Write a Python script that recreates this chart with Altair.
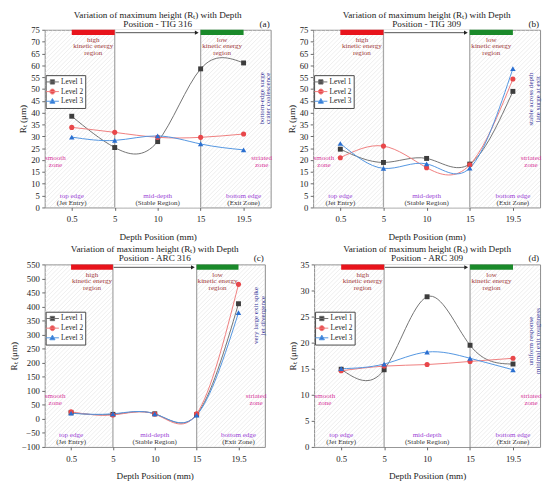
import json
import altair as alt
import pandas as pd

FONT = "Liberation Serif"

DEPTH_LABELS = ["0.5", "5", "10", "15", "19.5"]
LEVELS = ["Level 1", "Level 2", "Level 3"]

TIG316_L1 = [38.5, 25.3, 27.8, 58.5, 61.0]
TIG316_L2 = [33.8, 31.7, 29.6, 29.6, 31.0]
TIG316_L3 = [29.7, 28.3, 30.2, 26.8, 24.3]

TIG309_L1 = [24.6, 19.0, 20.7, 18.3, 49.0]
TIG309_L2 = [21.0, 25.9, 16.8, 18.0, 54.2]
TIG309_L3 = [27.0, 16.5, 18.4, 16.6, 58.6]

ARC316_L1 = [22, 16, 18, 15, 410]
ARC316_L2 = [25, 14, 17, 18, 479]
ARC316_L3 = [20, 18, 18, 13, 378]

ARC309_L1 = [14.9, 14.8, 28.8, 19.5, 15.9]
ARC309_L2 = [14.6, 15.5, 15.8, 16.4, 17.0]
ARC309_L3 = [15.0, 15.9, 18.2, 17.0, 14.8]

TITLE_LINE1 = "Variation of maximum height (Rₜ) with Depth"

LINE_COLORS = ["#707070", "#ee7b7b", "#4f93e0"]
MARKER_COLORS = ["#3d3d3d", "#e8474a", "#2a6fd0"]
SHAPES = ["square", "circle", "triangle-up"]
SIZES = [26, 28, 32]
LEGEND_PATHS = [
    "M-1.5,0H1.5M-0.5,-0.5H0.5V0.5H-0.5Z",
    "M-1.5,0H1.5M0.58,0A0.58,0.58,0,1,1,-0.58,0A0.58,0.58,0,1,1,0.58,0Z",
    "M-1.5,0H1.5M0,-0.62L0.6,0.45L-0.6,0.45Z",
]

XMIN, XMAX = -0.63, 4.63
BOUNDARIES = [DEPTH_LABELS.index("5"), DEPTH_LABELS.index("15")]

C_KIN = "#a23b3b"
C_ZONE = "#d8389c"
C_EDGE = "#9b3fd6"
C_SUB = "#333333"
C_NOTE = "#3b3b9b"
C_RED = "#e8141c"
C_GREEN = "#1a8a2a"

LABEL_EXPR = json.dumps(DEPTH_LABELS) + "[datum.value]"


def panel(tag, name, series, ymin, ymax, ystep, W, H, note_text, note_frac):
    xs = alt.Scale(domain=[XMIN, XMAX], nice=False, zero=False)
    ys = alt.Scale(domain=[ymin, ymax], nice=False, zero=False)
    xaxis = alt.Axis(values=list(range(len(DEPTH_LABELS))), labelExpr=LABEL_EXPR,
                     title="Depth Position (mm)", labelPadding=5, titlePadding=8)
    yaxis = alt.Axis(values=list(range(ymin, ymax + 1, ystep)), title="Rₜ (μm)",
                     labelPadding=2.5, titlePadding=3)

    rows = []
    for lev, vals in zip(LEVELS, series):
        for i, v in enumerate(vals):
            rows.append({"x": i, "v": v, "level": lev})
    df = pd.DataFrame(rows)

    def X(f):
        return alt.X(f, scale=xs, axis=xaxis)

    def Y(f):
        return alt.Y(f, scale=ys, axis=yaxis)

    # hatch pattern
    SP = 4.5
    n = int((W + H) / SP) + 3
    xr = (XMAX - XMIN) / W
    hatch = (
        alt.Chart(alt.sequence(0, n, as_="k"))
        .transform_calculate(
            hx1=f"{XMIN} + (datum.k*{SP} - {H})*{xr}",
            hx2=f"{XMIN} + (datum.k*{SP})*{xr}",
            hy1=f"{ymin}",
            hy2=f"{ymax}",
        )
        .mark_rule(clip=True, color="#e2e2e2", strokeWidth=0.6)
        .encode(x=X("hx1:Q"), x2="hx2:Q", y=Y("hy1:Q"), y2="hy2:Q")
    )

    mid = (
        alt.Chart(pd.DataFrame({"a": [BOUNDARIES[0]], "b": [BOUNDARIES[1]]}))
        .mark_rect(color="white")
        .encode(x=X("a:Q"), x2="b:Q")
    )
    bounds = (
        alt.Chart(pd.DataFrame({"a": BOUNDARIES}))
        .mark_rule(color="#a8a8a8", strokeWidth=1.3)
        .encode(x=X("a:Q"))
    )
    red_bar = (
        alt.Chart(pd.DataFrame({"a": [0], "b": [BOUNDARIES[0]]}))
        .mark_rect(color=C_RED)
        .encode(x=X("a:Q"), x2="b:Q", y=alt.value(0), y2=alt.value(5.5))
    )
    green_bar = (
        alt.Chart(pd.DataFrame({"a": [BOUNDARIES[1]], "b": [len(DEPTH_LABELS) - 1]}))
        .mark_rect(color=C_GREEN)
        .encode(x=X("a:Q"), x2="b:Q", y=alt.value(0), y2=alt.value(5.5))
    )
    arrow = (
        alt.Chart(pd.DataFrame({"a": [BOUNDARIES[0] + 0.02], "b": [2.9]}))
        .mark_rule(color="#222", strokeWidth=0.8)
        .encode(x=X("a:Q"), x2="b:Q", y=alt.value(3))
    )
    head = (
        alt.Chart(pd.DataFrame({"a": [2.91]}))
        .mark_point(shape="triangle-right", filled=True, size=20, color="#222", opacity=1)
        .encode(x=X("a:Q"), y=alt.value(3))
    )

    def txt(x, y, text, color, size=7.3, angle=0, baseline="middle", lh=7.3):
        return (
            alt.Chart(pd.DataFrame({"x": [x], "t": [text]}))
            .mark_text(
                color=color, fontSize=size, font=FONT, lineBreak="\n", lineHeight=lh,
                angle=angle, align="center", baseline=baseline,
            )
            .encode(x=X("x:Q"), y=alt.value(y), text="t:N")
        )

    zone_y = H * 0.72
    notes = [
        txt(0.5, 6.5, "high\nkinetic energy\nregion", C_KIN, baseline="top", lh=6.8),
        txt(3.5, 6.5, "low\nkinetic energy\nregion", C_KIN, baseline="top", lh=6.8),
        txt(-0.38, zone_y, "smooth\nzone", C_ZONE),
        txt(4.42, zone_y, "striated\nzone", C_ZONE),
        txt(0, H - 12, "top edge", C_EDGE),
        txt(0, H - 5, "(Jet Entry)", C_SUB),
        txt(2, H - 12, "mid-depth", C_EDGE),
        txt(2, H - 5, "(Stable Region)", C_SUB),
        txt(4, H - 12, "bottom edge", C_EDGE),
        txt(4, H - 5, "(Exit Zone)", C_SUB),
        txt(4.42, H * note_frac, note_text, C_NOTE, angle=270, lh=7),
    ]

    def head_text(t, x, y, align):
        return (
            alt.Chart(pd.DataFrame({"t": [t]}))
            .mark_text(font=FONT, fontSize=9.5, align=align, baseline="middle", color="#222")
            .encode(x=alt.value(x), y=alt.value(y), text="t:N")
        )

    titles = [
        head_text(TITLE_LINE1, W / 2, -15.6, "center"),
        head_text(f"Position - {name}", W / 2, -6.3, "center"),
        head_text(f"({tag})", W - 1, -6.3, "right"),
    ]

    lines = (
        alt.Chart(df)
        .mark_line(interpolate="natural", strokeWidth=1, clip=True)
        .encode(
            x=X("x:Q"),
            y=Y("v:Q"),
            color=alt.Color("level:N", scale=alt.Scale(domain=LEVELS, range=LINE_COLORS), legend=None),
        )
    )
    points = [
        alt.Chart(df)
        .transform_filter(alt.datum.level == lev)
        .mark_point(shape=SHAPES[i], filled=True, size=SIZES[i], color=MARKER_COLORS[i], opacity=1)
        .encode(x=X("x:Q"), y=Y("v:Q"))
        for i, lev in enumerate(LEVELS)
    ]

    LEG = dict(
        orient="none", legendX=1, legendY=round(H * 0.258), title=None,
        strokeColor="#444", fillColor="white", padding=2, rowPadding=0,
        labelFont=FONT, labelFontSize=7.5, labelColor="#222", symbolSize=80,
        labelOffset=4, symbolStrokeWidth=1,
    )
    legend = (
        alt.Chart(df)
        .transform_filter("false")
        .mark_point(filled=True, strokeWidth=1, opacity=1)
        .encode(
            fill=alt.Fill("level:N", scale=alt.Scale(domain=LEVELS, range=MARKER_COLORS), legend=alt.Legend(**LEG)),
            stroke=alt.Stroke("level:N", scale=alt.Scale(domain=LEVELS, range=LINE_COLORS), legend=alt.Legend(**LEG)),
            shape=alt.Shape("level:N", scale=alt.Scale(domain=LEVELS, range=LEGEND_PATHS), legend=alt.Legend(**LEG)),
        )
    )

    return alt.layer(
        hatch, mid, bounds, red_bar, green_bar, arrow, head, *notes, *titles, lines, *points, legend
    ).properties(width=W, height=H)


a = panel("a", "TIG 316", [TIG316_L1, TIG316_L2, TIG316_L3], 0, 75, 5, 234, 184,
          "bottom-edge surge\ncrater coalescence", 0.386)
b = panel("b", "TIG 309", [TIG309_L1, TIG309_L2, TIG309_L3], 0, 75, 5, 235, 184,
          "stable across depth\nlate surge at exit", 0.39)
c = panel("c", "ARC 316", [ARC316_L1, ARC316_L2, ARC316_L3], -100, 550, 50, 228, 189,
          "very large exit spike\njet divergence", 0.28)
d = panel("d", "ARC 309", [ARC309_L1, ARC309_L2, ARC309_L3], 0, 35, 5, 234, 189,
          "uniform response\nminimal exit roughness", 0.42)

IND = dict(fill="independent", stroke="independent", shape="independent")
row1 = alt.hconcat(a, b, spacing=14).resolve_scale(**IND)
row2 = alt.hconcat(c, d, spacing=20).resolve_scale(**IND)

chart = (
    alt.vconcat(row1, row2, spacing=2)
    .resolve_scale(**IND)
    .properties(padding={"left": 0, "top": -8, "right": 0, "bottom": 0})
    .configure_view(stroke="#8a8a8a", strokeWidth=1)
    .configure_axis(
        labelFont=FONT, labelFontSize=9, labelColor="#222",
        titleFont=FONT, titleFontSize=9.5, titleFontWeight="normal", titleColor="#222",
        tickSize=3, tickColor="#666", domain=False, grid=False,
    )
)

chart.save("out.html", embed_options={"renderer": "svg", "actions": False})
